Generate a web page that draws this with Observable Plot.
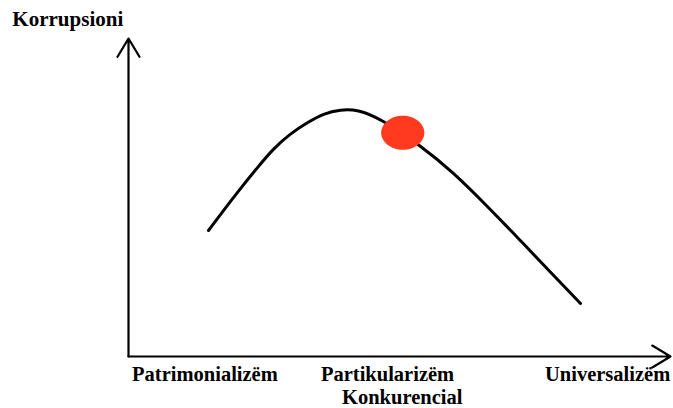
<!DOCTYPE html>
<html>
<head>
<meta charset="utf-8">
<script src="https://cdn.jsdelivr.net/npm/d3@7"></script>
<script src="https://cdn.jsdelivr.net/npm/@observablehq/plot@0.6"></script>
<style>
  html, body { margin: 0; padding: 0; background: #fff; }
</style>
</head>
<body>
<div id="chart"></div>
<script>
// Curve (x: 0..100 along the horizontal axis, y: 0..100 corruption)
const curveX = [14.76, 17.53, 20.66, 23.80, 26.75, 29.89, 33.03, 35.98, 39.11, 42.25, 46.49, 53.87, 59.96, 66.24, 72.32, 78.41, 83.39];
const curveY = [39.62, 45.91, 52.83, 59.43, 65.41, 70.13, 73.58, 76.42, 77.67, 77.67, 74.84, 66.35, 57.86, 47.17, 36.48, 25.47, 16.67];

// Marked point
const markX = [50.6];
const markY = [70.4];

// Category labels along the x axis
const labelText = ["Patrimonializëm", "Partikularizëm", "Konkurencial", "Universalizëm"];
const labelX = [14.1, 47.8, 50.5, 88.4];
const labelY = [-5.64, -5.64, -12.81, -5.64];

// Axis title
const yTitle = ["Korrupsioni"];
const yTitleX = [-11.2];
const yTitleY = [106.2];

const curve = curveX.map((x, i) => ({x, y: curveY[i]}));
const marks = markX.map((x, i) => ({x, y: markY[i]}));
const labels = labelText.map((t, i) => ({t, x: labelX[i], y: labelY[i]}));
const titles = yTitle.map((t, i) => ({t, x: yTitleX[i], y: yTitleY[i]}));
const axes = [
  {x1: 0, y1: 0, x2: 0, y2: 100},
  {x1: 0, y1: 0, x2: 100, y2: 0}
];

// elliptical symbol
const ellipse = {
  draw(ctx, size) {
    const r = Math.sqrt(size / Math.PI);
    const rx = r * 1.27, ry = r;
    const k = 0.5522847;
    ctx.moveTo(rx, 0);
    ctx.bezierCurveTo(rx, ry * k, rx * k, ry, 0, ry);
    ctx.bezierCurveTo(-rx * k, ry, -rx, ry * k, -rx, 0);
    ctx.bezierCurveTo(-rx, -ry * k, -rx * k, -ry, 0, -ry);
    ctx.bezierCurveTo(rx * k, -ry, rx, -ry * k, rx, 0);
    ctx.closePath();
  }
};

const font = "Liberation Serif";

const chart = Plot.plot({
  width: 673,
  height: 408,
  marginLeft: 128,
  marginRight: 3,
  marginTop: 38,
  marginBottom: 52,
  x: {domain: [0, 100], axis: null},
  y: {domain: [0, 100], axis: null},
  style: {background: "#fff", overflow: "visible", fontFamily: font},
  marks: [
    Plot.arrow(axes, {
      x1: "x1", y1: "y1", x2: "x2", y2: "y2",
      stroke: "black", strokeWidth: 2.2, headLength: 14.5, headAngle: 62
    }),
    Plot.line(curve, {x: "x", y: "y", curve: "basis", stroke: "black", strokeWidth: 3}),
    Plot.dot(marks, {x: "x", y: "y", r: 17, symbol: ellipse, fill: "#ff3a1e", stroke: "none"}),
    Plot.text(labels, {
      x: "x", y: "y", text: "t", fontFamily: font, fontSize: 20.5, fontWeight: "bold", fill: "black", textAnchor: "middle"
    }),
    Plot.text(titles, {
      x: "x", y: "y", text: "t", fontFamily: font, fontSize: 21, fontWeight: "bold", fill: "black", textAnchor: "middle"
    })
  ]
});
document.getElementById("chart").appendChild(chart);
</script>
</body>
</html>
